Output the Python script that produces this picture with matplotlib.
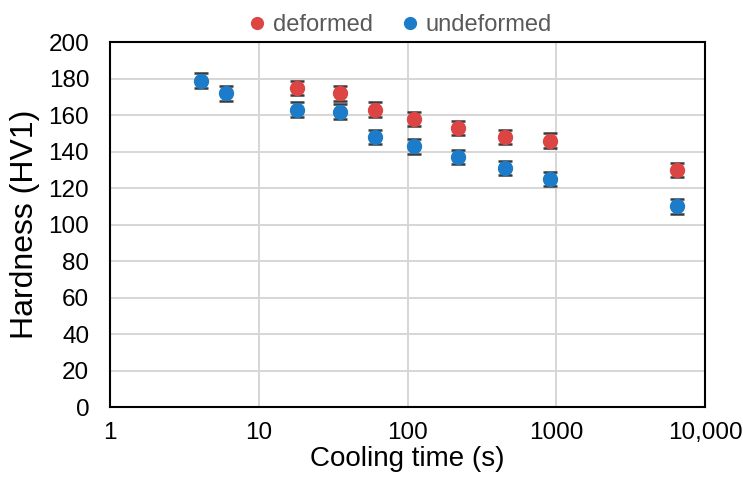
import matplotlib
matplotlib.use("Agg")
import matplotlib.pyplot as plt
from matplotlib.ticker import FixedLocator, NullLocator

plt.rcParams['font.family'] = ['Liberation Sans', 'DejaVu Sans']

time_def = [18, 35, 60, 110, 220, 450, 900, 6500]
hard_def = [175, 172, 163, 158, 153, 148, 146, 130]
err_def = [4, 4, 4, 4, 4, 4, 4, 4]

time_undef = [4.1, 6, 18, 35, 60, 110, 220, 450, 900, 6500]
hard_undef = [179, 172, 163, 162, 148, 143, 137, 131, 125, 110]
err_undef = [4, 4, 4, 4, 4, 4, 4, 4, 4, 4]

x_ticks = [1, 10, 100, 1000, 10000]
x_tick_labels = ["1", "10", "100", "1000", "10,000"]
y_ticks = list(range(0, 201, 20))

red = '#DD4444'
blue = '#1C7CC9'

fig = plt.figure(figsize=(7.43, 4.80), dpi=100)
ax = fig.add_axes([0.148, 0.152, 0.801, 0.760])

ax.errorbar(time_def, hard_def, yerr=err_def, fmt='o', color=red, ms=10,
            ecolor='#3a3a3a', elinewidth=1.8, capsize=5, capthick=1.8,
            label='deformed', zorder=3)
ax.errorbar(time_undef, hard_undef, yerr=err_undef, fmt='o', color=blue, ms=10,
            ecolor='#3a3a3a', elinewidth=1.8, capsize=5, capthick=1.8,
            label='undeformed', zorder=3)

ax.set_xscale('log')
ax.set_xlim(1, 10000)
ax.set_ylim(0, 200)
ax.xaxis.set_major_locator(FixedLocator(x_ticks))
ax.xaxis.set_minor_locator(NullLocator())
ax.set_xticklabels(x_tick_labels)
ax.set_yticks(y_ticks)
ax.tick_params(axis='y', length=0, labelsize=17.5, pad=15)
ax.tick_params(axis='x', length=0, labelsize=17.5, pad=11)
ax.grid(True, color='#d6d6d6', linewidth=1.4, linestyle='-', zorder=0)
ax.set_axisbelow(True)
for s in ax.spines.values():
    s.set_color('black')
    s.set_linewidth(1.5)

ax.set_xlabel('Cooling time (s)', fontsize=20, labelpad=1)
ax.set_ylabel('Hardness (HV1)', fontsize=23, labelpad=6)

h, l = ax.get_legend_handles_labels()
h = [hh[0] for hh in h]
leg = fig.legend(h, l, loc='upper center', bbox_to_anchor=(0.535, 1.015), ncol=2,
                 frameon=False, fontsize=17, handletextpad=0.05, columnspacing=1.0,
                 markerscale=0.85, handlelength=1.2)
for t in leg.get_texts():
    t.set_color('#595959')

fig.savefig('out.png', dpi=100)
